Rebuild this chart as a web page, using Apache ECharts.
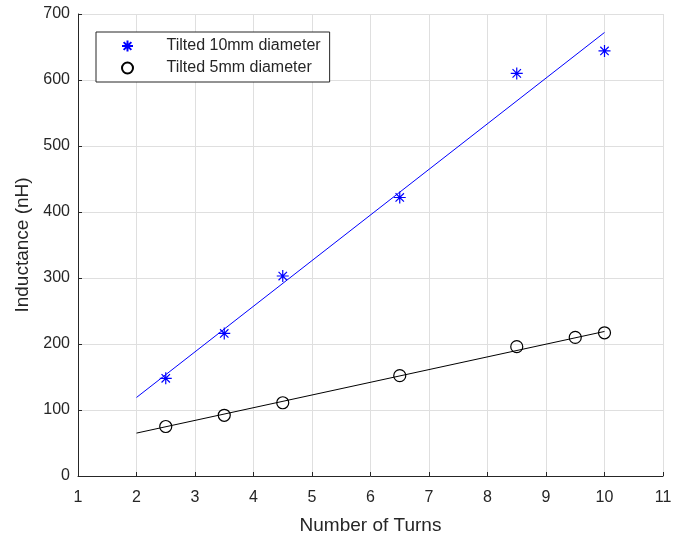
<!DOCTYPE html>
<html>
<head>
<meta charset="utf-8">
<script src="https://cdn.jsdelivr.net/npm/echarts@6/dist/echarts.min.js"></script>
<style>
  html, body { margin: 0; padding: 0; background: #fff; }
  #chart { width: 673px; height: 536px; }
</style>
</head>
<body>
<div id="chart"></div>
<script>
// measured points
var turns10 = [2.5, 3.5, 4.5, 6.5, 8.5, 10];
var ind10 = [148, 216, 303, 422, 610, 644];
var turns5 = [2.5, 3.5, 4.5, 6.5, 8.5, 9.5, 10];
var ind5 = [75, 92, 111, 152, 196, 210, 217];
// linear fits (end points)
var fitTurns = [2, 10];
var fit10 = [119, 672];
var fit5 = [65, 219];

var xTicks = [1, 2, 3, 4, 5, 6, 7, 8, 9, 10, 11];
var yTicks = [0, 100, 200, 300, 400, 500, 600, 700];

var axisCol = '#262626';
var gridCol = '#dfdfdf';
var font = 'Liberation Sans, Arial, sans-serif';
var star = 'path://M0,-1L0,1M-1,0L1,0M-0.7,-0.7L0.7,0.7M-0.7,0.7L0.7,-0.7';

function pairs(xs, ys){
  var out = [];
  for (var i = 0; i < xs.length; i++) out.push([xs[i], ys[i]]);
  return out;
}

var myChart = echarts.init(document.getElementById('chart'), null, {renderer: 'canvas'});
var option = {
  animation: false,
  backgroundColor: '#fff',
  grid: {left: 78, right: 10, top: 14, bottom: 60, containLabel: false, outerBoundsMode: 'none'},
  legend: {
    orient: 'vertical',
    left: 96,
    top: 32,
    data: ['Tilted 10mm diameter', 'Tilted 5mm diameter'],
    backgroundColor: '#fff',
    borderColor: axisCol,
    borderWidth: 1,
    borderRadius: 0,
    padding: [6, 9, 6, 25],
    itemWidth: 50,
    itemHeight: 11,
    itemGap: 6,
    textStyle: {fontFamily: font, fontSize: 16, color: axisCol, padding: [0, 0, 0, 9]}
  },
  xAxis: {
    type: 'value',
    min: xTicks[0],
    max: xTicks[xTicks.length - 1],
    interval: 1,
    name: 'Number of Turns',
    nameLocation: 'middle',
    nameGap: 40,
    nameTextStyle: {fontFamily: font, fontSize: 19, color: axisCol},
    axisLine: {lineStyle: {color: axisCol, width: 1}},
    axisTick: {inside: true, length: 4, lineStyle: {color: axisCol}},
    axisLabel: {fontFamily: font, fontSize: 16, color: axisCol, margin: 14},
    splitLine: {show: true, lineStyle: {color: gridCol, width: 1}}
  },
  yAxis: {
    type: 'value',
    min: yTicks[0],
    max: yTicks[yTicks.length - 1],
    interval: 100,
    name: 'Inductance (nH)',
    nameLocation: 'middle',
    nameGap: 45,
    nameTextStyle: {fontFamily: font, fontSize: 19, color: axisCol},
    axisLine: {show: true, lineStyle: {color: axisCol, width: 1}},
    axisTick: {show: true, inside: true, length: 4, lineStyle: {color: axisCol}},
    axisLabel: {fontFamily: font, fontSize: 16, color: axisCol, margin: 8},
    splitLine: {show: true, lineStyle: {color: gridCol, width: 1}}
  },
  series: [
    {
      name: 'fit10',
      type: 'line',
      data: pairs(fitTurns, fit10),
      showSymbol: false,
      lineStyle: {color: '#0000ff', width: 1},
      itemStyle: {color: '#0000ff'},
      z: 2
    },
    {
      name: 'fit5',
      type: 'line',
      data: pairs(fitTurns, fit5),
      showSymbol: false,
      lineStyle: {color: '#000', width: 1},
      itemStyle: {color: '#000'},
      z: 2
    },
    {
      name: 'Tilted 10mm diameter',
      type: 'scatter',
      data: pairs(turns10, ind10),
      symbol: star,
      symbolSize: 12,
      itemStyle: {color: 'transparent', borderColor: '#0000ff', borderWidth: 1.2, opacity: 1},
      z: 3
    },
    {
      name: 'Tilted 5mm diameter',
      type: 'scatter',
      data: pairs(turns5, ind5),
      symbol: 'circle',
      symbolSize: 12,
      itemStyle: {color: 'transparent', borderColor: '#000', borderWidth: 1.2, opacity: 1},
      z: 3
    }
  ]
};
myChart.setOption(option);
</script>
</body>
</html>
